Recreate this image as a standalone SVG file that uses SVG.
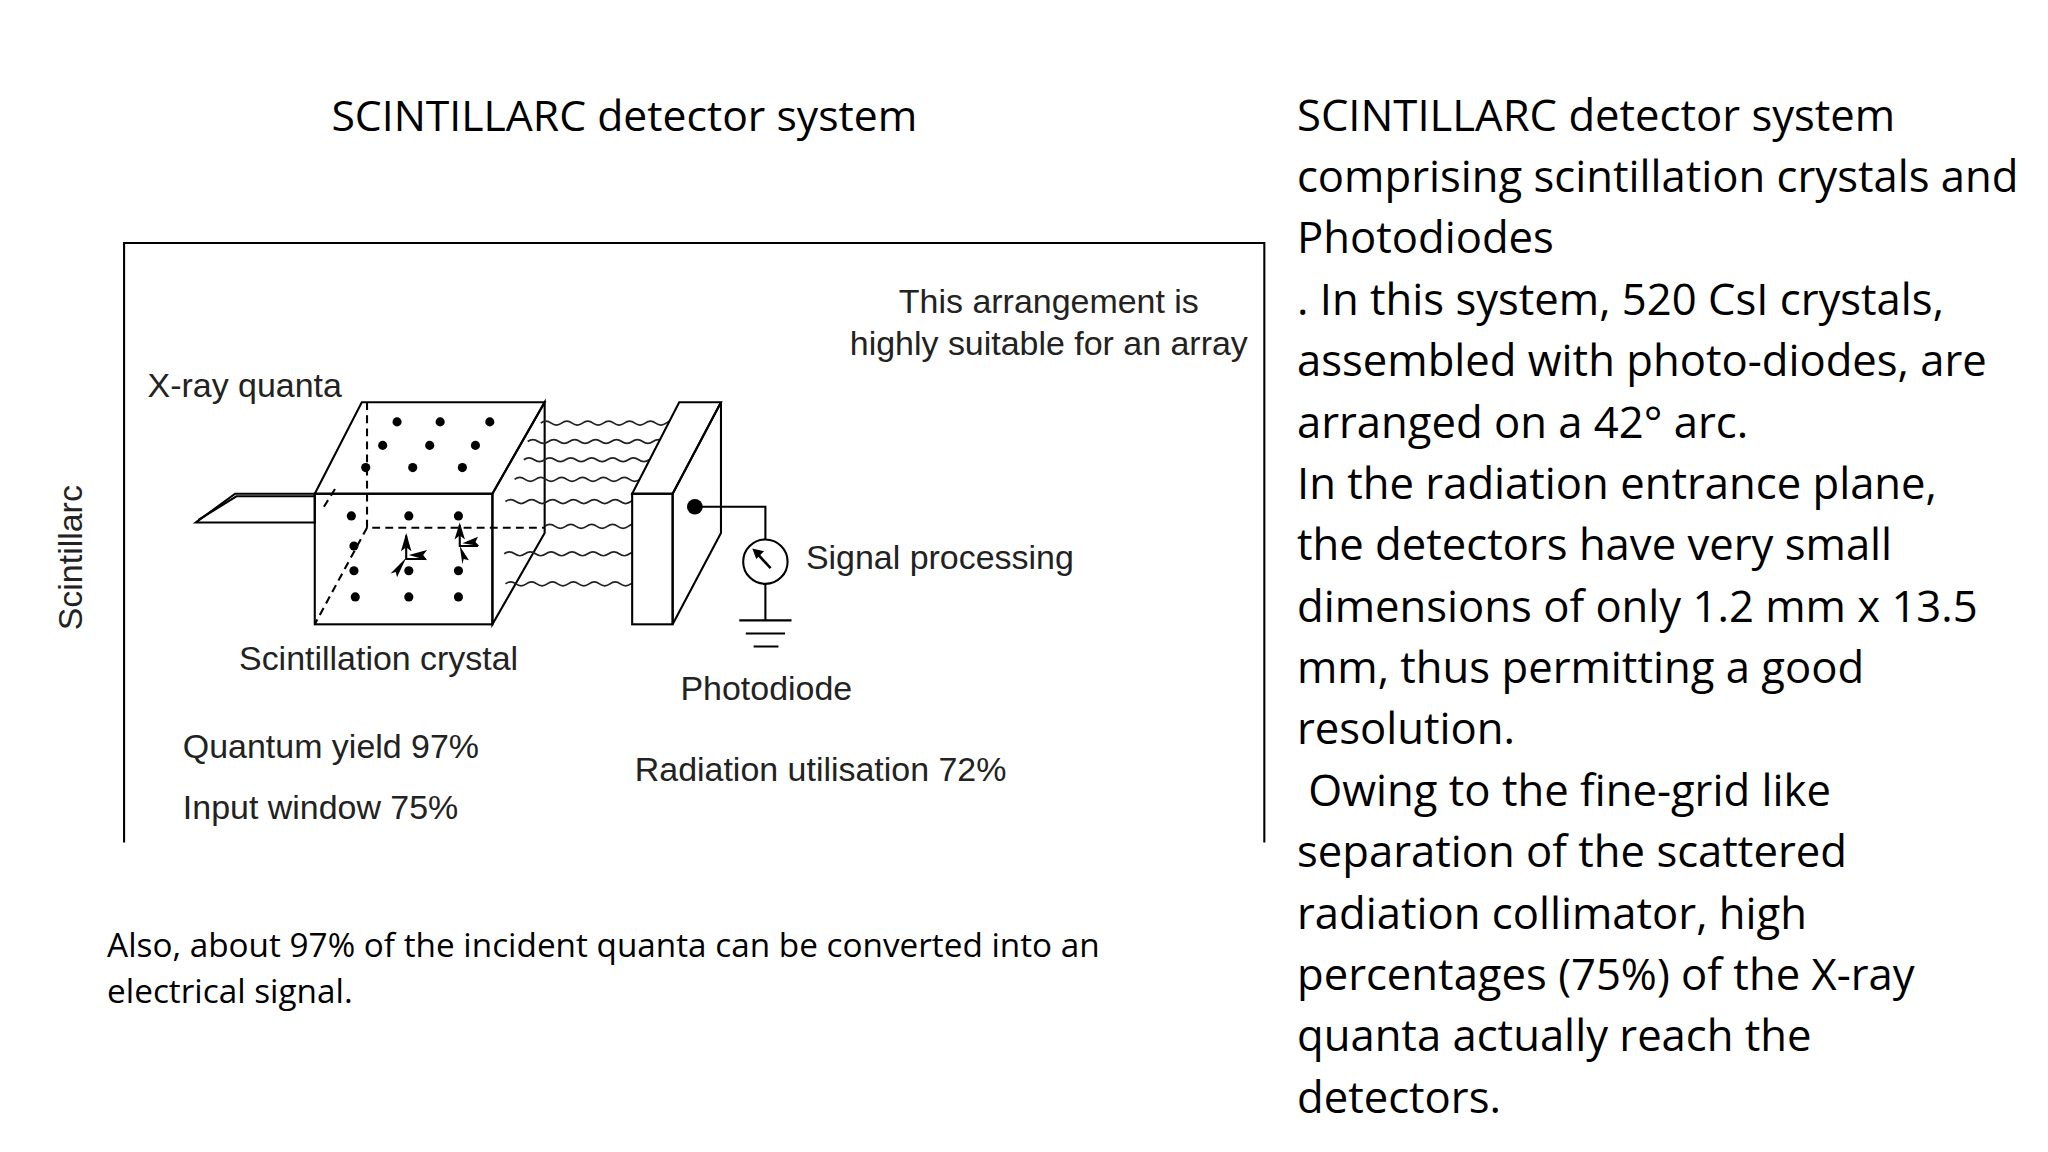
<svg xmlns="http://www.w3.org/2000/svg" width="2048" height="1152" viewBox="0 0 2048 1152">
<style>
.t{font-family:"Open Sans","Liberation Sans",Arial,sans-serif;fill:#000}
.l{font-family:"Liberation Sans",Arial,sans-serif;fill:#222;font-size:26px}
.s{fill:none;stroke:#000;stroke-width:1.6}
.d{fill:none;stroke:#000;stroke-width:1.6;stroke-dasharray:6,4}
.w{fill:none;stroke:#222;stroke-width:1.3}
</style>
<defs>
<path id="wave" d="M0,0 q4,-3 8,0 t8,0 t8,0 t8,0 t8,0 t8,0 t8,0 t8,0 t8,0 t8,0 t8,0 t8,0 t8,0 t8,0"/>
<clipPath id="wc"><polygon points="0,300 484,300 484,378 520,308 484,308 484,478 0,478"/></clipPath>
</defs>
<rect width="2048" height="1152" fill="#fff"/>
<g transform="scale(1.30612)">
<text class="t" x="478" y="100" font-size="32.7" text-anchor="middle">SCINTILLARC detector system</text>
<g id="frame" class="s"><path d="M95,645 V186 H968 V645"/></g>
<text class="l" x="0" y="0" transform="translate(63,427) rotate(-90)" text-anchor="middle" font-size="26">Scintillarc</text>
<g id="crystal">
<polygon class="s" points="150,400 180,378 241,378 241,400" stroke="#555"/>
<polyline class="s" points="152,398 181,380 241,380" stroke="#888" stroke-width="1"/>
<rect class="s" x="241" y="378" width="136" height="100" fill="#fff"/>
<polygon class="s" points="241,378 277,308 417,308 377,378" fill="#fff"/>
<polygon class="s" points="377,378 417,308 417,408 377,478" fill="#fff"/>
<path class="d" d="M281,308 V404 H417 M281,404 L241,478 M248,388 L258,372"/>
<g fill="#000">
<circle cx="304" cy="323" r="3.5"/><circle cx="337" cy="323" r="3.5"/><circle cx="375" cy="323" r="3.5"/>
<circle cx="293" cy="341" r="3.5"/><circle cx="329" cy="341" r="3.5"/><circle cx="364" cy="341" r="3.5"/>
<circle cx="280" cy="358" r="3.5"/><circle cx="316" cy="358" r="3.5"/><circle cx="354" cy="358" r="3.5"/>
<circle cx="269" cy="395" r="3.5"/><circle cx="313" cy="395" r="3.5"/><circle cx="351" cy="395" r="3.5"/>
<circle cx="271" cy="418" r="3.5"/>
<circle cx="271" cy="437" r="3.5"/><circle cx="313" cy="437" r="3.5"/><circle cx="351" cy="437" r="3.5"/>
<circle cx="272" cy="457" r="3.5"/><circle cx="313" cy="457" r="3.5"/><circle cx="351" cy="457" r="3.5"/>
<path d="M311,408 l-4,14 l4,-3 l4,3 z M313,425 l14,4 l-3,-4 l3,-4 z M311,427 l-12,12 l4,-1 l1,4 z M352,400 l-4,13 l4,-3 l4,3 z M354,416 l13,2 l-3,-3 l2,-4 z M352,418 l2,14 l1,-4 l4,1 z"/>
</g>
<path class="s" d="M311,410 V428 H326 M352,402 V418 H366" stroke-width="1.2"/>
</g>
<g id="waves" class="w" clip-path="url(#wc)">
<use href="#wave" x="414" y="324"/><use href="#wave" x="404" y="338"/><use href="#wave" x="401" y="352"/><use href="#wave" x="394" y="367"/>
<use href="#wave" x="387" y="384"/><use href="#wave" x="417" y="403"/><use href="#wave" x="386" y="424"/><use href="#wave" x="387" y="447"/>
</g>
<g id="photodiode">
<rect class="s" x="484" y="378" width="31" height="100" fill="#fff"/>
<polygon class="s" points="484,378 520,308 552,308 515,378" fill="#fff"/>
<polygon class="s" points="515,378 552,308 552,408 515,478" fill="#fff"/>
<circle cx="532" cy="388" r="6" fill="#000"/>
<path class="s" d="M532,388 H586 V413 M586,447 V475 M566,475 H606 M571,485 H601 M577,495 H596"/>
<circle class="s" cx="586" cy="430" r="17"/>
<path d="M578,422 l12,13" stroke="#000" stroke-width="2"/>
<path d="M576,420 l9,2 l-6,6 z" fill="#000"/>
</g>
<g id="labels">
<text class="l" x="803" y="240" text-anchor="middle">This arrangement is</text>
<text class="l" x="803" y="272" text-anchor="middle">highly suitable for an array</text>
<text class="l" x="113" y="304">X-ray quanta</text>
<text class="l" x="617" y="436">Signal processing</text>
<text class="l" x="183" y="513">Scintillation crystal</text>
<text class="l" x="521" y="536">Photodiode</text>
<text class="l" x="140" y="580">Quantum yield 97%</text>
<text class="l" x="140" y="627">Input window 75%</text>
<text class="l" x="486" y="598">Radiation utilisation 72%</text>
</g>
<g class="t" font-size="25.5">
<text x="82" y="733">Also, about 97% of the incident quanta can be converted into an</text>
<text x="82" y="768">electrical signal.</text>
</g>
<g class="t" font-size="33.4">
<text x="993" y="100">SCINTILLARC detector system</text>
<text x="993" y="147">comprising scintillation crystals and</text>
<text x="993" y="194">Photodiodes</text>
<text x="993" y="241">. In this system, 520 CsI crystals,</text>
<text x="993" y="288">assembled with photo-diodes, are</text>
<text x="993" y="335">arranged on a 42° arc.</text>
<text x="993" y="382">In the radiation entrance plane,</text>
<text x="993" y="429">the detectors have very small</text>
<text x="993" y="476">dimensions of only 1.2 mm x 13.5</text>
<text x="993" y="523">mm, thus permitting a good</text>
<text x="993" y="570">resolution.</text>
<text x="993" y="617" xml:space="preserve"> Owing to the fine-grid like</text>
<text x="993" y="664">separation of the scattered</text>
<text x="993" y="711">radiation collimator, high</text>
<text x="993" y="758">percentages (75%) of the X-ray</text>
<text x="993" y="805">quanta actually reach the</text>
<text x="993" y="852">detectors.</text>
</g>
</g>
</svg>
